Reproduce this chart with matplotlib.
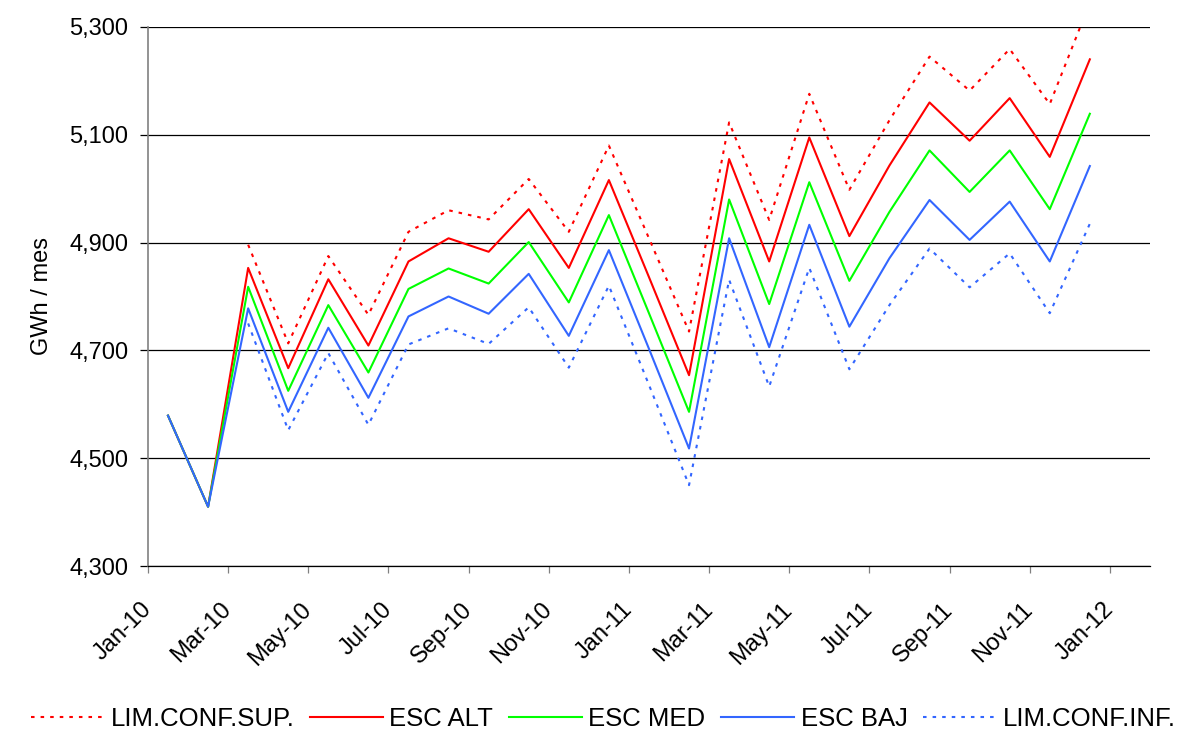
import matplotlib
matplotlib.use('Agg')
import matplotlib.pyplot as plt
import matplotlib.transforms as mtransforms
from matplotlib.ticker import FuncFormatter
import numpy as np

plt.rcParams['font.family'] = ['Liberation Sans', 'DejaVu Sans']

# monthly data Jan-10 .. Dec-11 (GWh / mes)
months = ["Jan-10", "Feb-10", "Mar-10", "Apr-10", "May-10", "Jun-10", "Jul-10", "Aug-10",
          "Sep-10", "Oct-10", "Nov-10", "Dec-10", "Jan-11", "Feb-11", "Mar-11", "Apr-11",
          "May-11", "Jun-11", "Jul-11", "Aug-11", "Sep-11", "Oct-11", "Nov-11", "Dec-11"]
lim_sup = [np.nan, np.nan, 4896, 4713, 4875, 4766, 4920, 4960, 4943, 5018, 4920, 5080,
           4908, 4735, 5123, 4942, 5176, 4998, 5127, 5245, 5182, 5259, 5157, 5345]
esc_alt = [4579, 4410, 4853, 4667, 4832, 4709, 4865, 4908, 4883, 4962, 4853, 5016,
           4836, 4654, 5055, 4865, 5095, 4912, 5043, 5160, 5089, 5168, 5059, 5240]
esc_med = [4579, 4410, 4818, 4625, 4784, 4659, 4814, 4852, 4824, 4901, 4789, 4951,
           4769, 4586, 4980, 4786, 5012, 4829, 4957, 5071, 4994, 5071, 4962, 5139]
esc_baj = [4579, 4410, 4778, 4586, 4742, 4612, 4763, 4800, 4768, 4842, 4727, 4886,
           4703, 4518, 4908, 4706, 4933, 4744, 4871, 4979, 4905, 4976, 4865, 5042]
lim_inf = [np.nan, np.nan, 4750, 4552, 4695, 4562, 4711, 4741, 4712, 4780, 4668, 4820,
           4636, 4450, 4831, 4633, 4853, 4665, 4784, 4889, 4817, 4880, 4769, 4935]
tick_labels = ["Jan-10", "Mar-10", "May-10", "Jul-10", "Sep-10", "Nov-10", "Jan-11",
               "Mar-11", "May-11", "Jul-11", "Sep-11", "Nov-11", "Jan-12"]

x = np.arange(len(months)) + 0.5  # points sit between month ticks

fig = plt.figure(figsize=(11.78, 7.31), dpi=100)
ax = fig.add_axes([0.1256, 0.2257, 0.8506, 0.7374])

red = '#FF0000'
green = '#00FF00'
blue = '#3366FF'
dot = (0, (1.7, 2.9))

ax.plot(x, lim_sup, color=red, lw=1.5, linestyle=dot, label='LIM.CONF.SUP.')
ax.plot(x, esc_alt, color=red, lw=1.5, label='ESC ALT')
ax.plot(x, esc_med, color=green, lw=1.5, label='ESC MED')
ax.plot(x, esc_baj, color=blue, lw=1.5, label='ESC BAJ')
ax.plot(x, lim_inf, color=blue, lw=1.5, linestyle=dot, label='LIM.CONF.INF.')

ax.set_xlim(0, 25)
ax.set_ylim(4300, 5300)
ax.set_yticks(np.arange(4300, 5301, 200))
ax.yaxis.set_major_formatter(FuncFormatter(lambda v, p: f"{int(v):,}"))
ax.set_xticks(np.arange(0, 25, 2))
ax.set_xticklabels(tick_labels, rotation=45, ha='right', va='center',
                   rotation_mode='anchor')
# nudge rotated labels a bit right, like excel does
shift = mtransforms.ScaledTranslation(6 / 100, 0, fig.dpi_scale_trans)
for lab in ax.get_xticklabels():
    lab.set_transform(lab.get_transform() + shift)

ax.grid(axis='y', color='black', lw=0.9)
ax.set_axisbelow(True)
for s in ['top', 'right']:
    ax.spines[s].set_visible(False)
ax.spines['left'].set_color('#808080')
ax.spines['left'].set_linewidth(1.2)
ax.spines['bottom'].set_color('black')
ax.spines['bottom'].set_linewidth(0.9)

ax.tick_params(axis='y', direction='out', length=6, width=0.9, color='black',
               labelsize=17, pad=8)
ax.tick_params(axis='x', direction='out', length=5, width=0.9, color='#808080',
               labelsize=17, pad=24)
ax.set_ylabel('GWh / mes', fontsize=17, labelpad=12)

fig.legend(loc='center', bbox_to_anchor=(0.512, 0.016), ncol=5, frameon=False,
           fontsize=18.5, handlelength=2.85, handletextpad=0.25, columnspacing=0.6)

fig.savefig('out.png', dpi=100)
